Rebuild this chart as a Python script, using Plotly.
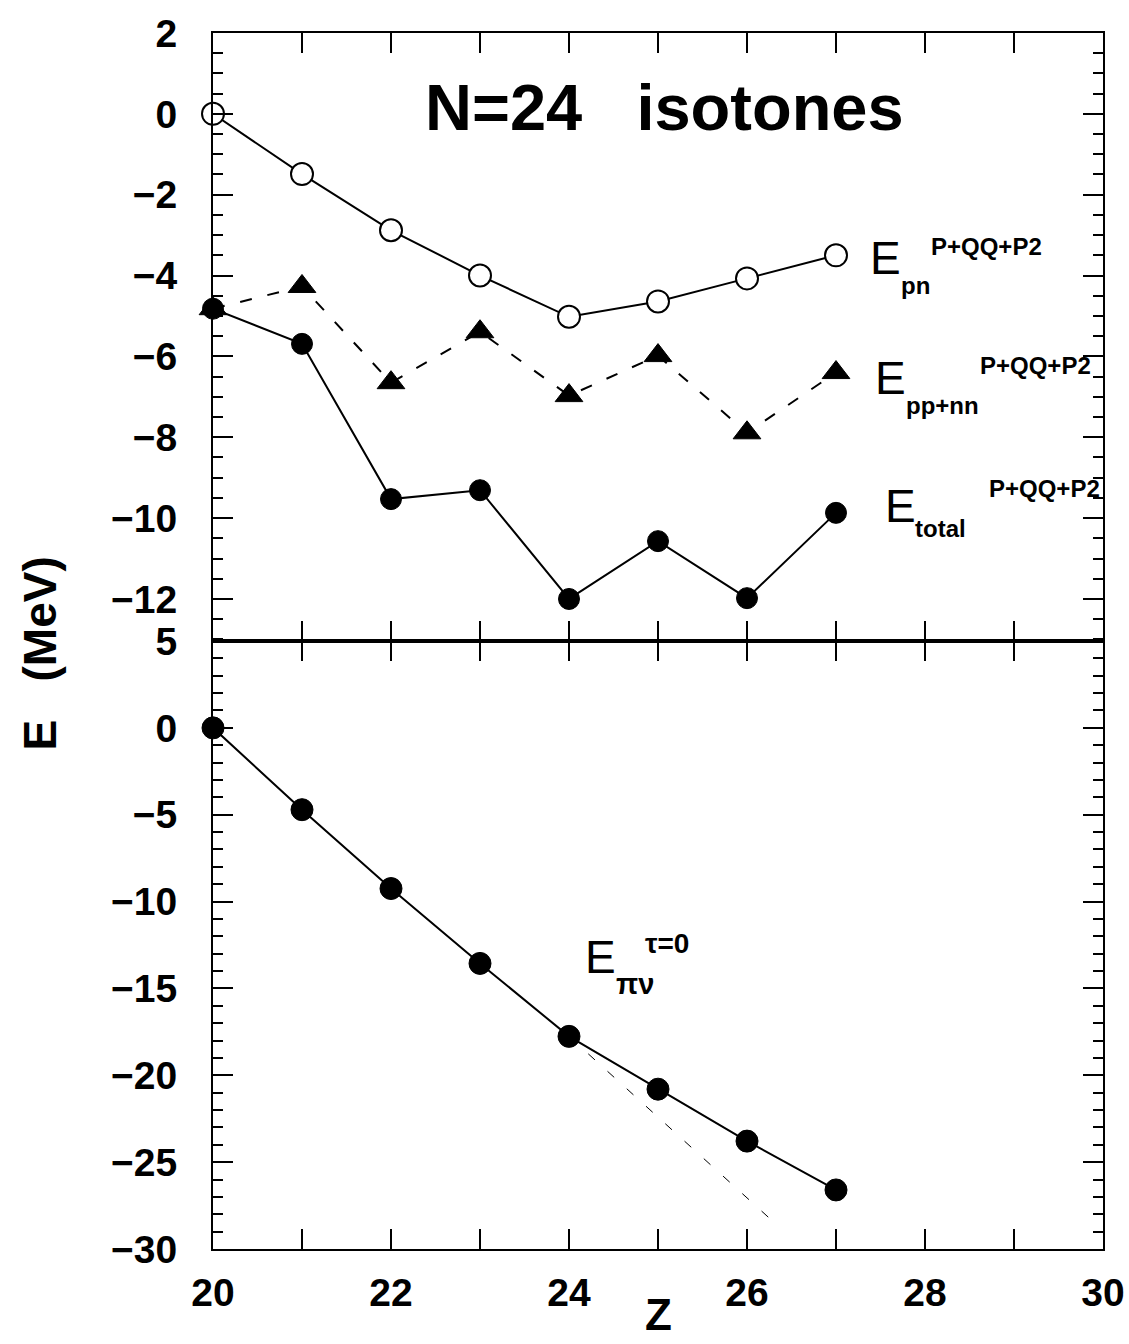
import plotly.graph_objects as go

# Proton number Z of the N=24 isotones
z = [20, 21, 22, 23, 24, 25, 26, 27]

# Upper panel: energy contributions (MeV) with the P+QQ+P2 interaction
e_pn = [0.0, -1.49, -2.88, -4.0, -5.02, -4.64, -4.07, -3.5]
e_ppnn = [-4.82, -4.27, -6.65, -5.39, -6.97, -5.98, -7.89, -6.4]
e_total = [-4.82, -5.69, -9.53, -9.31, -12.0, -10.57, -11.98, -9.87]

# Lower panel: tau=0 pairing energy E_pi-nu (MeV) and its extrapolation beyond Z=24
e_pinu = [0.0, -4.71, -9.25, -13.56, -17.76, -20.8, -23.79, -26.6]
extrap_z = [24, 26.3]
extrap_e = [-17.76, -28.45]

FONT = "Liberation Sans, Arial, sans-serif"
NARROW = "Liberation Sans Narrow, Liberation Sans, Arial, sans-serif"

fig = go.Figure()

line_style = dict(color="black", width=2)

fig.add_trace(go.Scatter(
    x=z, y=e_pn, mode="lines+markers", xaxis="x", yaxis="y",
    line=line_style, cliponaxis=False,
    marker=dict(symbol="circle", size=22, color="white",
                line=dict(color="black", width=2)),
    showlegend=False))

fig.add_trace(go.Scatter(
    x=z, y=e_total, mode="lines+markers", xaxis="x", yaxis="y",
    line=line_style, cliponaxis=False,
    marker=dict(symbol="circle", size=21, color="black",
                line=dict(color="black", width=1)),
    showlegend=False))

fig.add_trace(go.Scatter(
    x=z, y=e_ppnn, mode="lines+markers", xaxis="x", yaxis="y",
    line=dict(color="black", width=2, dash="12px,16px"), cliponaxis=False,
    marker=dict(symbol="triangle-up", size=24, color="black",
                line=dict(color="black", width=1)),
    showlegend=False))

fig.add_trace(go.Scatter(
    x=extrap_z, y=extrap_e, mode="lines", xaxis="x2", yaxis="y2",
    line=dict(color="black", width=1, dash="9px,17px"),
    showlegend=False))

fig.add_trace(go.Scatter(
    x=z, y=e_pinu, mode="lines+markers", xaxis="x2", yaxis="y2",
    line=line_style, cliponaxis=False,
    marker=dict(symbol="circle", size=22, color="black",
                line=dict(color="black", width=1)),
    showlegend=False))

tick_font = dict(family=FONT, size=39, color="black", weight="bold")

common_x = dict(
    range=[20, 30], dtick=2, tick0=20, automargin=False,
    showline=True, linecolor="black", linewidth=2, mirror="allticks",
    ticks="inside", ticklen=20, tickwidth=2, tickcolor="black",
    minor=dict(dtick=1, tick0=20, ticks="inside", ticklen=20,
               tickwidth=1.5, tickcolor="black"),
    showgrid=False, zeroline=False,
)

common_y = dict(
    showline=True, linecolor="black", linewidth=2, mirror="allticks",
    ticks="inside", ticklen=20, tickwidth=2, tickcolor="black",
    showgrid=False, zeroline=False, automargin=False,
    tickfont=tick_font, ticklabelstandoff=26,
)

fig.update_layout(
    width=1129, height=1344,
    margin=dict(l=213, r=26, t=33, b=95, autoexpand=False),
    paper_bgcolor="white", plot_bgcolor="white",
    xaxis=dict(**common_x, domain=[0, 1], anchor="y", showticklabels=False),
    yaxis=dict(**common_y, domain=[0.5, 1], anchor="x",
               range=[-13.04, 2.0], dtick=2, tick0=0,
               minor=dict(dtick=0.5, tick0=0, ticks="inside", ticklen=10,
                          tickwidth=1.5, tickcolor="black")),
    xaxis2=dict(**common_x, domain=[0, 1], anchor="y2", matches="x",
                tickfont=tick_font, ticklabelstandoff=8),
    yaxis2=dict(**common_y, domain=[0, 0.5], anchor="x2",
                range=[-30, 5], dtick=5, tick0=0,
                minor=dict(dtick=1, tick0=0, ticks="inside", ticklen=10,
                           tickwidth=1.5, tickcolor="black")),
)


def label(x, y, text, size, bold=False, family=FONT, xref="x", yref="y"):
    fig.add_annotation(
        x=x, y=y, xref=xref, yref=yref, text=text, showarrow=False,
        xanchor="left", yanchor="middle",
        font=dict(family=family, size=size, color="black",
                  weight="bold" if bold else "normal"))


# Panel title
label(22.36, 0.16, "N=24\u00a0\u00a0\u00a0isotones", 65, bold=True)

# Series labels: E with subscript and superscript parts
label(27.36, -3.56, "E", 46, family=NARROW)
label(27.71, -4.24, "pn", 24, bold=True)
label(28.04, -3.28, "P+QQ+P2", 24, bold=True, family=NARROW)

label(27.42, -6.53, "E", 46, family=NARROW)
label(27.76, -7.22, "pp+nn", 24, bold=True)
label(28.6, -6.22, "P+QQ+P2", 24, bold=True, family=NARROW)

label(27.53, -9.69, "E", 46, family=NARROW)
label(27.87, -10.26, "total", 24, bold=True)
label(28.7, -9.27, "P+QQ+P2", 24, bold=True, family=NARROW)

label(24.16, -13.2, "E", 46, family=NARROW, xref="x2", yref="y2")
label(24.5, -14.75, "\u03c0\u03bd", 29, bold=True, xref="x2", yref="y2")
label(24.83, -12.44, "\u03c4=0", 28, bold=True, xref="x2", yref="y2")

# Axis titles
fig.add_annotation(
    x=-0.194, y=0.49, xref="paper", yref="paper",
    text="E\u00a0\u00a0\u00a0(MeV)", textangle=-90, showarrow=False,
    xanchor="center", yanchor="middle",
    font=dict(family=FONT, size=46, color="black", weight="bold"))

fig.add_annotation(
    x=0.5, y=-0.054, xref="paper", yref="paper",
    text="Z", showarrow=False, xanchor="center", yanchor="middle",
    font=dict(family=FONT, size=44, color="black", weight="bold"))

fig.write_html("out.html")
